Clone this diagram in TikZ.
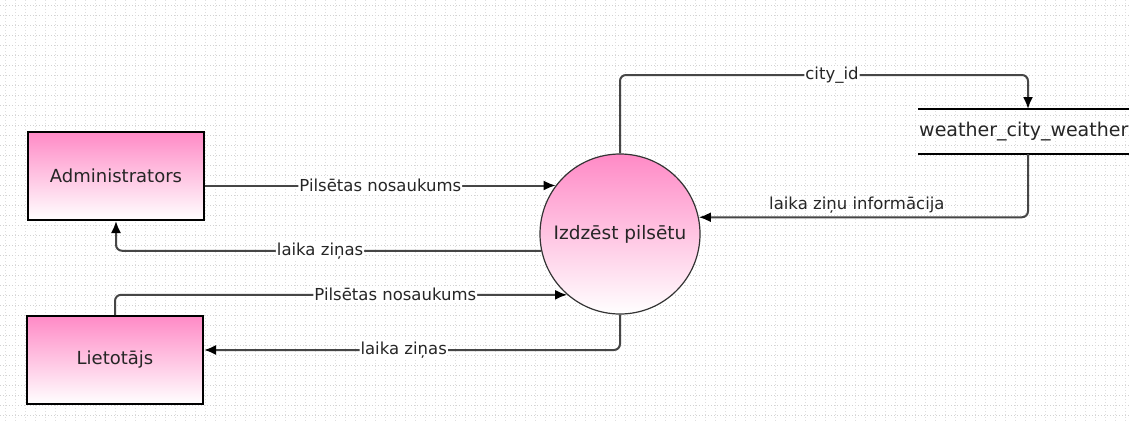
\documentclass[tikz,border=0pt]{standalone}
\usepackage{fontspec}
\setmainfont{DejaVu Sans}
\usetikzlibrary{arrows.meta}
\definecolor{rozs}{RGB}{255,138,198}
\definecolor{linija}{RGB}{70,70,70}
\begin{document}
\begin{tikzpicture}[x=1pt,y=-1pt,
  entity/.style={draw=black,line width=2pt,top color=rozs,bottom color=white,
    minimum width=176pt,minimum height=88pt,text=black!85,font=\fontsize{18}{20}\selectfont},
  process/.style={circle,draw=black!80,line width=1.2pt,top color=rozs,bottom color=white,
    minimum size=160pt,inner sep=0pt,text=black!85,font=\fontsize{18.5}{20}\selectfont},
  flow/.style={draw=linija,line width=2pt,rounded corners=6pt,-{Latex[length=12pt,width=10pt,color=black]}},
  lbl/.style={fill=white,inner sep=1pt,text=black!85,font=\fontsize{16.5}{18}\selectfont}]
\useasboundingbox (0,0) rectangle (1129,421);
\fill[white] (0,0) rectangle (1129,421);
% dotted background grid
\foreach \y in {5,15,...,415}
  \draw[gray!35,line width=0.7pt,dash pattern=on 0.7pt off 2.3pt] (0,\y)--(1129,\y);
\foreach \x in {5,15,...,1125}
  \draw[gray!25,line width=0.7pt,dash pattern=on 0.7pt off 2.3pt] (\x,0)--(\x,421);
% nodes
\node[entity] (admin) at (116,176) {Administrators};
\node[entity] (liet) at (115,360) {Lietotājs};
\node[process] (izdz) at (620,234) {Izdzēst pilsētu};
% data store
\coordinate (sa) at (918,109);
\coordinate (sb) at (918,154);
\draw[line width=2.5pt] (sa)--++(220,0);
\draw[line width=2.5pt] (sb)--++(220,0);
\node[anchor=west,inner sep=0pt,text=black!85,font=\fontsize{19}{21}\selectfont] (store) at (919,132) {weather\_city\_weather};
\coordinate (sin) at (1028,109);
\coordinate (sout) at (1028,154);
% flows
\draw[flow] (izdz.north) |- (832,75) node[lbl]{city\_id} -| (sin);
\draw[flow] (sout) |- node[above,pos=0.76,inner sep=3pt,text=black!85,font=\fontsize{16.5}{18}\selectfont]{laika ziņu informācija} (izdz.12);
\draw[flow] (admin.east |- izdz.143) -- node[lbl]{Pilsētas nosaukums} (izdz.143);
\draw[flow] (izdz.192) -| node[lbl,pos=0.26]{laika ziņas} (admin.south);
\draw[flow] (liet.north) |- node[lbl,pos=0.81]{Pilsētas nosaukums} (izdz.229);
\draw[flow] (izdz.south) |- node[lbl,pos=0.76]{laika ziņas} (liet.east |- 0,350);
\end{tikzpicture}
\end{document}
